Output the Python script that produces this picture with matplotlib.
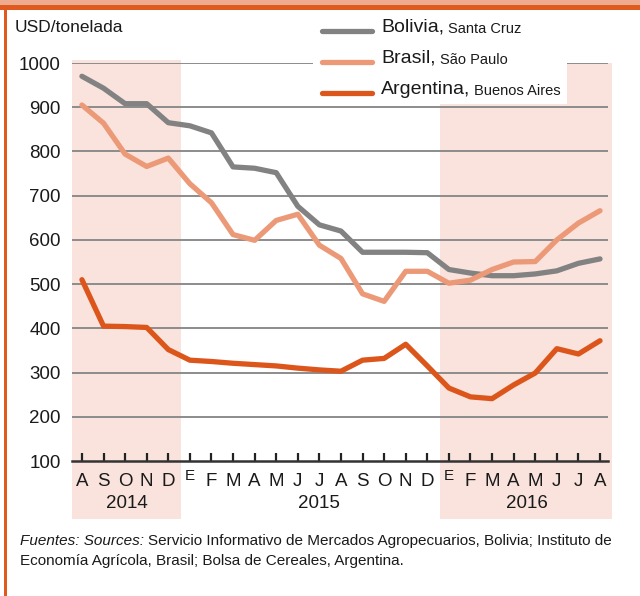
import numpy as np
import matplotlib
matplotlib.use('Agg')
import matplotlib.pyplot as plt
from matplotlib.patches import Rectangle
from matplotlib.lines import Line2D
from matplotlib.transforms import blended_transform_factory

plt.rcParams['font.family'] = ['Liberation Sans', 'DejaVu Sans']

# monthly prices, Aug 2014 .. Aug 2016 (USD/tonelada)
months = ['A', 'S', 'O', 'N', 'D',
          'E', 'F', 'M', 'A', 'M', 'J', 'J', 'A', 'S', 'O', 'N', 'D',
          'E', 'F', 'M', 'A', 'M', 'J', 'J', 'A']
years = ['2014', '2015', '2016']
year_pos = [2.1, 11.0, 20.6]

bolivia = [970, 943, 908, 908, 865, 858, 842, 765, 762, 752, 676, 634, 620,
           572, 572, 572, 571, 533, 525, 519, 519, 523, 530, 547, 557]
brasil = [905, 864, 794, 766, 785, 727, 684, 612, 599, 644, 658, 588, 558,
          478, 461, 529, 529, 502, 509, 533, 550, 551, 600, 638, 666]
argentina = [510, 405, 404, 402, 352, 328, 325, 321, 318, 315, 310, 306, 303,
             328, 332, 364, 315, 265, 245, 241, 272, 299, 354, 342, 372]

series = [
    ('Bolivia,', 'Santa Cruz', bolivia, '#828282'),
    ('Brasil,', 'São Paulo', brasil, '#ec9978'),
    ('Argentina,', 'Buenos Aires', argentina, '#dc561c'),
]
shade = '#f9e3dc'
orange = '#df5a1f'

W, H = 640, 596
fig = plt.figure(figsize=(W / 100, H / 100), dpi=100)

def fx(px):
    return px / W

def fy(py):
    return 1 - py / H

# frame decorations
fig.patches.append(Rectangle((0, fy(5)), 1, fy(0) - fy(5), transform=fig.transFigure,
                             facecolor='#eeab90', edgecolor='none'))
fig.patches.append(Rectangle((0, fy(10)), 1, fy(5) - fy(10), transform=fig.transFigure,
                             facecolor=orange, edgecolor='none'))
fig.patches.append(Rectangle((fx(4), 0), fx(3), fy(10), transform=fig.transFigure,
                             facecolor=orange, edgecolor='none'))

ax = fig.add_axes([fx(72), fy(461), fx(608) - fx(72), fy(63) - fy(461)])
ax.set_facecolor('none')
x = np.arange(len(months))
ax.set_xlim(-0.46, 24.37)
ax.set_ylim(100, 1000)

# shaded periods
bt = blended_transform_factory(ax.transData, fig.transFigure)
for x0, x1, top in [(-0.46, 4.6, 60), (16.6, 24.55, 63)]:
    ax.add_patch(Rectangle((x0, fy(519)), x1 - x0, fy(top) - fy(519), transform=bt,
                           facecolor=shade, edgecolor='none', zorder=0, clip_on=False))

for v in range(200, 1001, 100):
    ax.axhline(v, color='#8c8c8c', lw=1.4, zorder=1)

for name, sub, vals, col in series:
    ax.plot(x, vals, color=col, lw=3.8, solid_capstyle='round', solid_joinstyle='round', zorder=3)

for s in ['top', 'right', 'left']:
    ax.spines[s].set_visible(False)
ax.spines['bottom'].set_color('#333333')
ax.spines['bottom'].set_linewidth(1.8)
ax.set_xticks(x)
ax.set_xticklabels([])
ax.tick_params(axis='x', direction='in', length=6, width=1.6, color='#222222')
ax.set_yticks(range(100, 1001, 100))
ax.tick_params(axis='y', length=0, labelsize=13.5, pad=8, labelcolor='#1a1a1a')

at = blended_transform_factory(ax.transData, fig.transFigure)
for i, m in enumerate(months):
    if m == 'E':
        ax.text(i, fy(476), m, transform=at, ha='center', va='center', fontsize=11, color='#1a1a1a')
    else:
        ax.text(i, fy(481), m, transform=at, ha='center', va='center', fontsize=13.5, color='#1a1a1a')
for p, yr in zip(year_pos, years):
    ax.text(p, fy(503), yr, transform=at, ha='center', va='center', fontsize=13.5, color='#1a1a1a')

fig.text(fx(15), fy(27), 'USD/tonelada', ha='left', va='center', fontsize=12.5, color='#1a1a1a')

# legend box over the grid
fig.patches.append(Rectangle((fx(313), fy(104)), fx(567) - fx(313), fy(14) - fy(104),
                             transform=fig.transFigure, facecolor='white', edgecolor='none', zorder=4))
fig.canvas.draw()
r = fig.canvas.get_renderer()
for k, (name, sub, vals, col) in enumerate(series):
    yy = fy(31 + 31 * k)
    fig.add_artist(Line2D([fx(322), fx(372)], [yy, yy], color=col, lw=3.8,
                          solid_capstyle='round', zorder=5))
    t = fig.text(fx(381), yy + 0.006, name, ha='left', va='center', fontsize=14,
                 color='#1a1a1a', zorder=6)
    bb = t.get_window_extent(r)
    fig.text((bb.x1 + 4) / W, yy + 0.003, sub, ha='left', va='center', fontsize=10.5,
             color='#1a1a1a', zorder=6)

t = fig.text(fx(20), fy(541), 'Fuentes: Sources:', style='italic', ha='left', va='center',
             fontsize=11, color='#1a1a1a')
bb = t.get_window_extent(r)
fig.text((bb.x1 + 4) / W, fy(541),
         'Servicio Informativo de Mercados Agropecuarios, Bolivia; Instituto de',
         ha='left', va='center', fontsize=11, color='#1a1a1a')
fig.text(fx(20), fy(561), 'Economía Agrícola, Brasil; Bolsa de Cereales, Argentina.',
         ha='left', va='center', fontsize=11, color='#1a1a1a')

fig.savefig('out.png', dpi=100)
